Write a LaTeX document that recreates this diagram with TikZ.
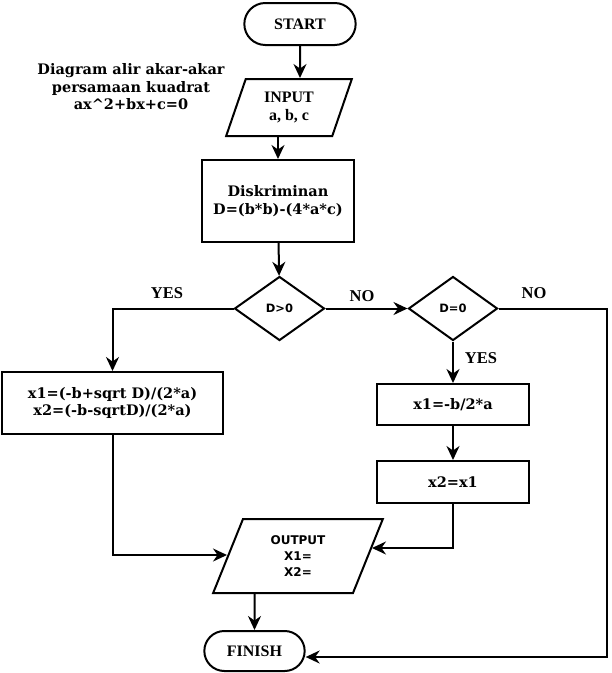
\documentclass[tikz,border=0pt]{standalone}
\usepackage{fontspec}
\setmainfont{DejaVu Serif}
\setsansfont{DejaVu Sans}
\newfontfamily\tms{Liberation Serif}
\usetikzlibrary{positioning,shapes.geometric,shapes.misc,arrows.meta}

\begin{document}
\begin{tikzpicture}[x=1pt,y=-1pt,line width=2pt,
	font=\bfseries\fontsize{14.5}{17.5}\selectfont,
	term/.style={draw, rounded rectangle, minimum width=118pt, minimum height=42pt, font=\tms\bfseries\fontsize{16}{18}\selectfont},
	io/.style={draw, trapezium, trapezium left angle=70, trapezium right angle=110, trapezium stretches=true, align=center, inner sep=0pt},
	proc/.style={draw, rectangle, align=center, minimum width=152pt},
	cond/.style={draw, diamond, inner sep=0pt, minimum width=90pt, minimum height=64pt, font=\sffamily\bfseries\fontsize{11.5}{13}\selectfont},
	lbl/.style={font=\tms\bfseries\fontsize{16.5}{18}\selectfont},
	flow/.style={-{Stealth[length=14pt,width=13pt]}}]
	\useasboundingbox (0,0) rectangle (612,673);

	\node[term] (start) at (300,24) {START};
	\node[io, minimum width=126pt, minimum height=57pt, font=\tms\bfseries\fontsize{16}{18}\selectfont] (in) at (289,107.5) {INPUT\\a, b, c};
	\node[align=center] (judul) at (131,87) {Diagram alir akar-akar\\persamaan kuadrat\\ax\textasciicircum2+bx+c=0};
	\node[proc, minimum height=82pt] (disk) at (278,201) {Diskriminan\\D=(b*b)-(4*a*c)};
	\node[cond] (dpos) at (279.5,308.5) {D>0};
	\node[cond, minimum width=89pt] (dnol) at (453,308.5) {D=0};
	\node[proc, minimum width=221pt, minimum height=62pt] (akar) at (112.5,403) {x1=(-b+sqrt D)/(2*a)\\x2=(-b-sqrtD)/(2*a)};
	\node[proc, minimum height=41pt] (xa) at (453,404.5) {x1=-b/2*a};
	\node[proc, minimum height=42pt] (xb) at (453,482) {x2=x1};
	\node[io, minimum width=170pt, minimum height=74pt, font=\sffamily\bfseries\fontsize{12}{16}\selectfont] (out) at (298,556) {OUTPUT\\X1=\\X2=};
	\node[term, minimum width=107pt, minimum height=40pt] (fin) at (254.5,651) {FINISH};

	\node[lbl] (ya) at (167,293) {YES};
	\node[lbl] (ta) at (362,296) {NO};
	\node[lbl] (tb) at (534,293) {NO};
	\node[lbl] (yb) at (481,358) {YES};
	\coordinate (ka) at (607,657);

	\draw[flow] (start) -- (start |- in.north);
	\draw[flow] (disk.north |- in.south) -- (disk);
	\draw[flow] (disk) -- (dpos);
	\draw[flow] (dpos.west) -| (akar.north);
	\draw[flow] (dpos) -- (dnol);
	\draw[flow] (dnol) -- (xa);
	\draw[flow] (xa) -- (xb);
	\draw[flow] (dnol.east) -| (ka) -- (fin.east |- ka);
	\draw[flow] (xb.south) |- ([shift={(3pt,8pt)}]out.east);
	\draw[flow] (akar.south) |- ([yshift=1pt]out.west);
	\draw[flow] (fin.north |- out.south) -- (fin);
\end{tikzpicture}
\end{document}
